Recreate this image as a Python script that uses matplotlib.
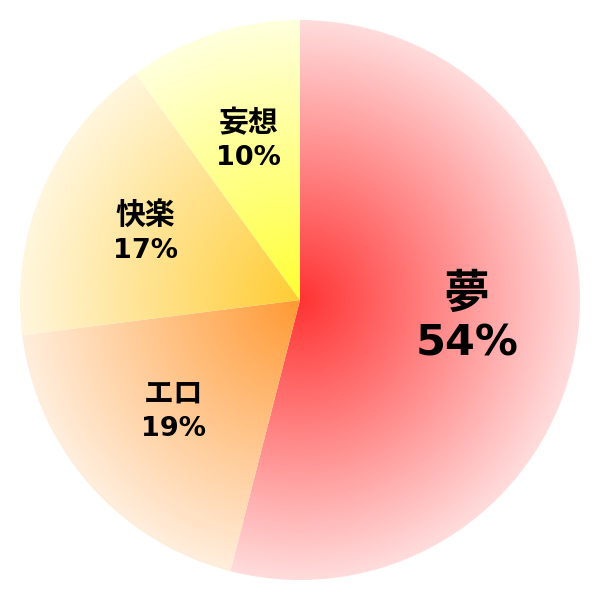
import numpy as np
import matplotlib
matplotlib.use("Agg")
import matplotlib.pyplot as plt
from matplotlib.colors import to_rgb

labels = ["夢", "エロ", "快楽", "妄想"]
values = [54, 19, 17, 10]
center_colors = ["#ff3333", "#ff9933", "#ffcc33", "#ffff33"]
edge_colors = ["#ffdcdc", "#ffeedd", "#fff6dd", "#ffffdd"]
pct_sizes = [31, 19.5, 19.5, 19.5]
name_sizes = [33, 21.5, 21.5, 21.5]

fig = plt.figure(figsize=(6, 6), dpi=100)
ax = fig.add_axes([0, 0, 1, 1])
R = 1.0
L = 300 / 280

wedges, _ = ax.pie(values, startangle=90, counterclock=False, radius=R,
                   wedgeprops=dict(linewidth=0))
ax.set_aspect("equal")
ax.axis("off")

n = 800
xs = np.linspace(-L, L, n)
X, Y = np.meshgrid(xs, xs[::-1])
T = np.clip(np.sqrt(X**2 + Y**2) / R, 0, 1)[..., None]

fam = ["DejaVu Sans", "Noto Sans CJK JP"]
for w, lab, v, c0, c1, fs, nfs in zip(wedges, labels, values, center_colors,
                                      edge_colors, pct_sizes, name_sizes):
    w.set_facecolor("none")
    w.set_edgecolor("none")
    a = np.array(to_rgb(c0))
    b = np.array(to_rgb(c1))
    img = a + (b - a) * T
    im = ax.imshow(img, extent=[-L, L, -L, L], interpolation="bilinear", zorder=1)
    im.set_clip_path(w)
    mid = np.deg2rad((w.theta1 + w.theta2) / 2)
    cx, cy = 0.6 * R * np.cos(mid), 0.6 * R * np.sin(mid)
    ax.annotate(lab, (cx, cy), xytext=(0, 0.3 * fs), textcoords="offset points",
                ha="center", va="baseline", fontsize=nfs, fontweight="bold",
                family=fam, zorder=3)
    ax.annotate(f"{v}%", (cx, cy), xytext=(0, -(0.6 * fs + 6)), textcoords="offset points",
                ha="center", va="baseline", fontsize=fs, fontweight="bold",
                family=fam, zorder=3)

ax.set_xlim(-L, L)
ax.set_ylim(-L, L)
fig.savefig("out.png", dpi=100)
